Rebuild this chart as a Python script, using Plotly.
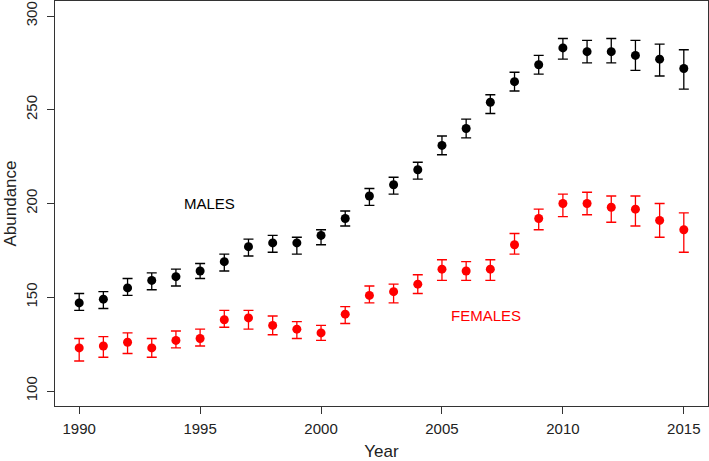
import plotly.graph_objects as go

years = list(range(1990, 2016))

males = [147, 149, 155, 159, 161, 164, 169, 177, 179, 179, 183, 192, 204, 210, 218,
         231, 240, 254, 265, 274, 283, 281, 281, 279, 277, 272]
males_lo = [143, 144, 151, 154, 156, 160, 164, 172, 174, 173, 178, 188, 199, 205, 213,
            226, 235, 248, 260, 269, 277, 275, 275, 271, 268, 261]
males_hi = [152, 153, 160, 163, 165, 168, 173, 181, 183, 182, 186, 196, 208, 214, 222,
            236, 245, 258, 270, 279, 288, 287, 288, 287, 285, 282]

females = [123, 124, 126, 123, 127, 128, 138, 139, 135, 133, 131, 141, 151, 153, 157,
           165, 164, 165, 178, 192, 200, 200, 198, 197, 191, 186]
females_lo = [116, 118, 120, 118, 123, 124, 134, 133, 130, 128, 127, 136, 147, 147, 152,
              159, 159, 159, 173, 186, 193, 194, 190, 188, 182, 174]
females_hi = [128, 129, 131, 128, 132, 133, 143, 143, 140, 137, 135, 145, 156, 157, 162,
              170, 169, 170, 184, 197, 205, 206, 204, 204, 200, 195]

x_ticks = [1990, 1995, 2000, 2005, 2010, 2015]
y_ticks = [100, 150, 200, 250, 300]

FONT = "Liberation Sans, Arial, Helvetica, sans-serif"


def series(vals, lo, hi, color):
    return go.Scatter(
        x=years, y=vals, mode="markers",
        marker=dict(color=color, size=9, line=dict(width=0)),
        error_y=dict(type="data", symmetric=False,
                     array=[h - v for h, v in zip(hi, vals)],
                     arrayminus=[v - l for v, l in zip(vals, lo)],
                     color=color, thickness=1.3, width=5),
        showlegend=False,
    )


fig = go.Figure()
fig.add_trace(series(males, males_lo, males_hi, "black"))
fig.add_trace(series(females, females_lo, females_hi, "#ff0000"))

fig.add_annotation(x=1995.4, y=200, text="MALES", showarrow=False,
                   font=dict(size=15, color="black", family=FONT))
fig.add_annotation(x=2006.8, y=140.5, text="FEMALES", showarrow=False,
                   font=dict(size=15, color="#ff0000", family=FONT))

axis_common = dict(showline=True, mirror=True, linecolor="#333", linewidth=1.2,
                   showgrid=False, zeroline=False, ticks="outside", ticklen=7,
                   tickwidth=1.2, tickcolor="#333",
                   tickfont=dict(size=15, color="#222", family=FONT))

fig.update_xaxes(range=[1989.0, 2016.0], tickvals=x_ticks,
                 ticktext=[str(t) for t in x_ticks], ticklabelstandoff=2,
                 title=dict(text="Year", font=dict(size=17, color="#222", family=FONT),
                            standoff=10),
                 **axis_common)
fig.update_yaxes(range=[92, 308], tickvals=y_ticks,
                 ticktext=[str(t) for t in y_ticks], tickangle=-90,
                 ticklabelstandoff=4,
                 title=dict(text="Abundance", font=dict(size=17, color="#222", family=FONT),
                            standoff=1),
                 **axis_common)

fig.update_layout(width=709, height=461,
                  margin=dict(l=55, r=1, t=1, b=55, autoexpand=False),
                  plot_bgcolor="white", paper_bgcolor="white",
                  font=dict(family=FONT))

fig.write_html("out.html", config={"displayModeBar": False},
               post_script="document.body.style.margin='0';document.body.style.padding='0';document.body.style.overflow='hidden';")
